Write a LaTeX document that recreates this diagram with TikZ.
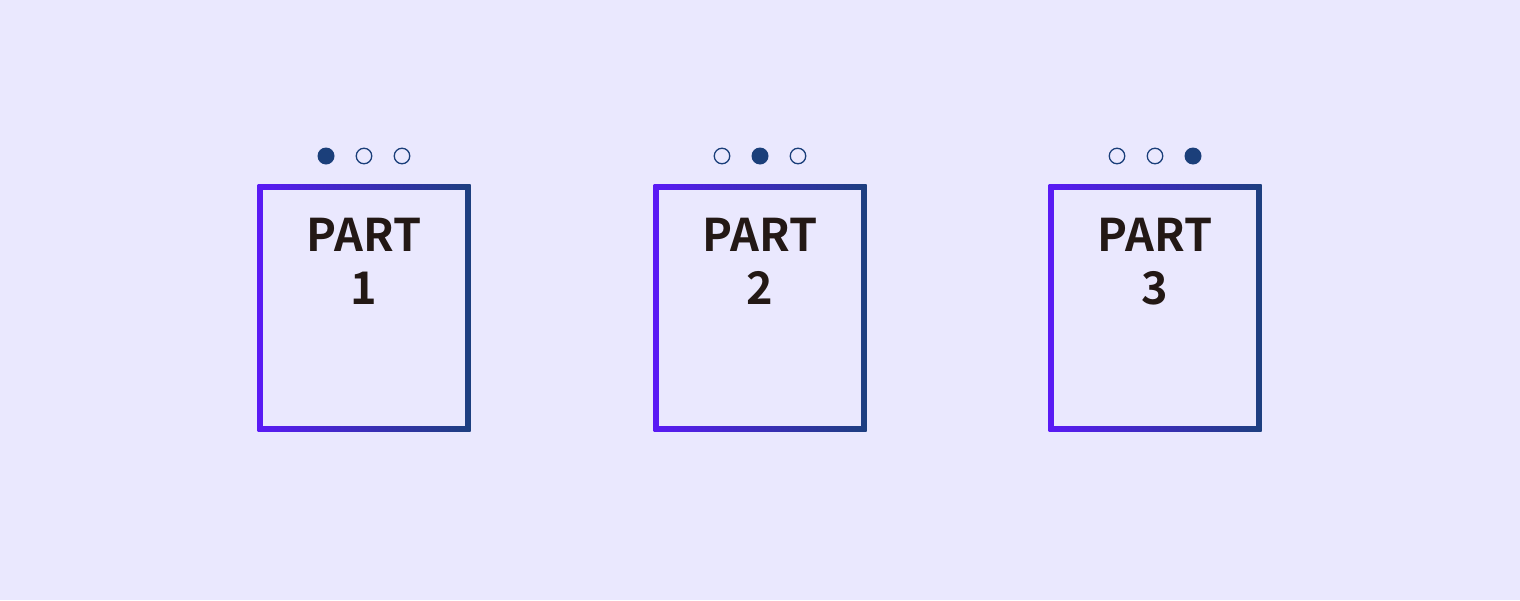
\documentclass[tikz,border=0pt]{standalone}
\usepackage{fontspec}
\newfontfamily\partfont{Noto Sans CJK SC}[BoldFont={* Bold}]
\usetikzlibrary{positioning}
\definecolor{bgpurple}{HTML}{EAE8FE}
\definecolor{edgeleft}{HTML}{5A1AF5}
\definecolor{edgeright}{HTML}{1D3F7F}
\definecolor{dotblue}{HTML}{1B3F7A}
\definecolor{textdark}{HTML}{231815}
\tikzset{
  partbox/.style={rectangle, inner sep=0pt, minimum width=213pt, minimum height=247pt, left color=edgeleft, right color=edgeright},
  partinner/.style={rectangle, inner sep=0pt, minimum width=202pt, minimum height=236pt, fill=bgpurple},
  parttext/.style={inner sep=0pt, align=center, text=textdark, font=\partfont\bfseries\fontsize{45pt}{53pt}\selectfont},
  dotfull/.style={circle, inner sep=0pt, minimum size=17pt, fill=dotblue},
  dotempty/.style={circle, inner sep=0pt, minimum size=15.5pt, draw=dotblue, line width=1.3pt}
}
\begin{document}
\begin{tikzpicture}[x=1pt, y=-1pt]
\fill[bgpurple] (0,0) rectangle (1520,600);
\useasboundingbox (0,0) rectangle (1520,600);
\foreach \n/\x in {1/364, 2/760, 3/1155} {
  \node (box\n) at (\x, 307.5) [partbox] {};
  \node (inner\n) at (box\n.center) [partinner] {};
  \node (label\n) [parttext, below=34pt of box\n.north] {PART\\\n};
  \foreach \k/\dx in {1/-38, 2/0, 3/38} {
    \ifnum\k=\n
      \node (dot\n\k) at (\x+\dx, 156) [dotfull] {};
    \else
      \node (dot\n\k) at (\x+\dx, 156) [dotempty] {};
    \fi
  }
}
\end{tikzpicture}
\end{document}
